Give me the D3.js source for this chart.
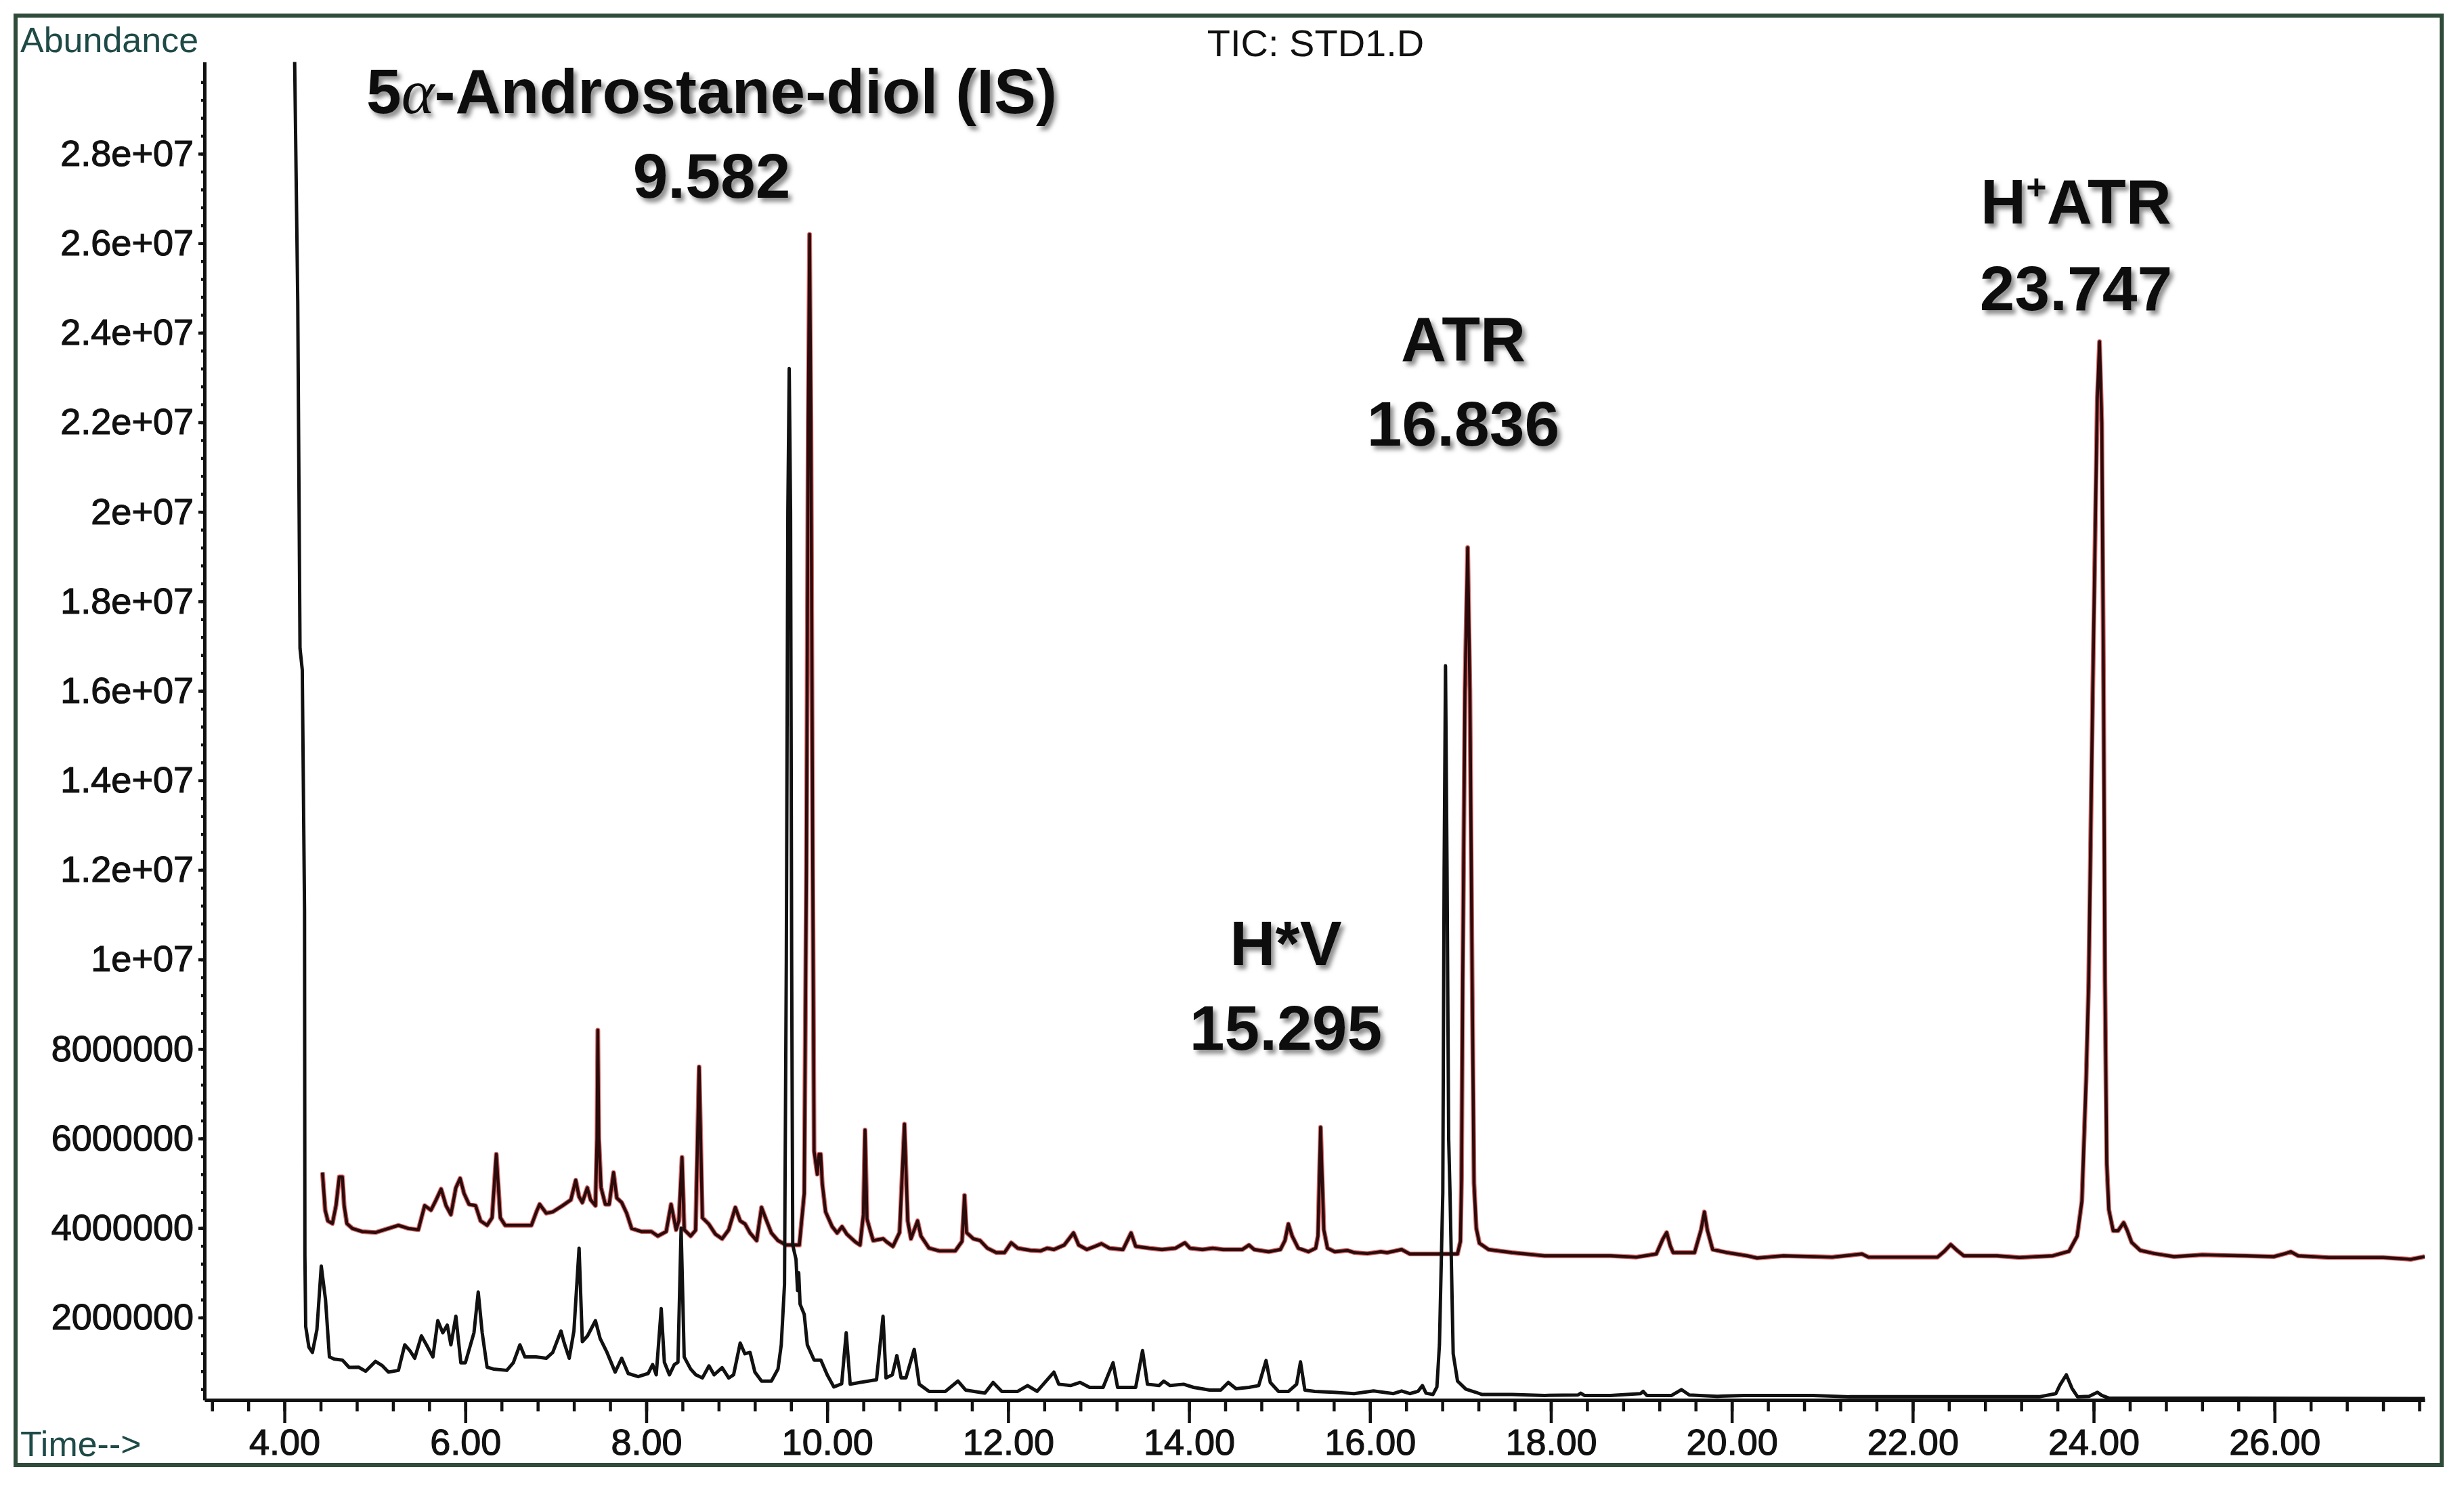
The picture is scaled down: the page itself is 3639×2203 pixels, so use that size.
<!DOCTYPE html>
<html>
<head>
<meta charset="utf-8">
<title>TIC: STD1.D</title>
<script src="https://cdn.jsdelivr.net/npm/d3@7"></script>
<style>
  body { margin: 0; background: #ffffff; }
  text { font-family: "Liberation Sans", Arial, sans-serif; }
</style>
</head>
<body>
<div id="chart"></div>
<script>
// Data: [retention time (min), abundance (millions of counts)]
var blackTrace = [
    [4.11, 30.5], [4.147, 24.7], [4.172, 16.95], [4.197, 16.47], [4.222, 11.1], [4.226, 3.4],
    [4.235, 1.8], [4.27, 1.34], [4.309, 1.22], [4.359, 1.73], [4.407, 3.15], [4.454, 2.40],
    [4.497, 1.12], [4.55, 1.07], [4.64, 1.05], [4.715, 0.886], [4.82, 0.89], [4.897, 0.80],
    [5.006, 1.02], [5.078, 0.93], [5.15, 0.78], [5.26, 0.82], [5.33, 1.39], [5.387, 1.26],
    [5.44, 1.09], [5.514, 1.59], [5.57, 1.39], [5.641, 1.12], [5.695, 1.93], [5.75, 1.66],
    [5.80, 1.83], [5.84, 1.39], [5.895, 2.03], [5.95, 0.99], [6.0, 0.99], [6.095, 1.66],
    [6.142, 2.57], [6.186, 1.66], [6.24, 0.89], [6.31, 0.85], [6.458, 0.82], [6.53, 0.99],
    [6.603, 1.39], [6.658, 1.12], [6.78, 1.12], [6.894, 1.09], [6.966, 1.22], [7.057, 1.70],
    [7.093, 1.43], [7.148, 1.09], [7.20, 1.70], [7.257, 3.55], [7.293, 1.46], [7.35, 1.59],
    [7.438, 1.93], [7.49, 1.53], [7.566, 1.22], [7.656, 0.78], [7.728, 1.09], [7.80, 0.75],
    [7.91, 0.68], [8.02, 0.75], [8.07, 0.95], [8.11, 0.72], [8.165, 2.20], [8.20, 1.0],
    [8.256, 0.72], [8.31, 0.95], [8.35, 1.0], [8.385, 4.0], [8.419, 1.12], [8.49, 0.85],
    [8.548, 0.72], [8.62, 0.65], [8.693, 0.92], [8.75, 0.72], [8.838, 0.88], [8.911, 0.65],
    [8.965, 0.72], [9.038, 1.43], [9.09, 1.19], [9.147, 1.22], [9.201, 0.78], [9.274, 0.58],
    [9.383, 0.58], [9.456, 0.85], [9.492, 1.39], [9.528, 2.74], [9.548, 10], [9.565, 20],
    [9.58, 23.2], [9.595, 20], [9.607, 10], [9.619, 3.62], [9.655, 3.3], [9.672, 2.6],
    [9.685, 3.0], [9.70, 2.3], [9.746, 2.07], [9.78, 1.39], [9.855, 1.05], [9.93, 1.05],
    [10.0, 0.72], [10.073, 0.45], [10.16, 0.52], [10.21, 1.66], [10.254, 0.51], [10.36, 0.55],
    [10.545, 0.61], [10.617, 2.03], [10.65, 0.65], [10.72, 0.72], [10.77, 1.15], [10.817, 0.65],
    [10.87, 0.65], [10.962, 1.29], [11.017, 0.51], [11.126, 0.35], [11.307, 0.35], [11.445, 0.58],
    [11.53, 0.38], [11.743, 0.31], [11.834, 0.55], [11.93, 0.35], [12.106, 0.35], [12.215, 0.48],
    [12.32, 0.35], [12.506, 0.78], [12.56, 0.51], [12.69, 0.48], [12.796, 0.55], [12.90, 0.44],
    [13.05, 0.44], [13.16, 0.99], [13.21, 0.44], [13.41, 0.44], [13.486, 1.26], [13.54, 0.51],
    [13.668, 0.48], [13.72, 0.58], [13.79, 0.48], [13.94, 0.51], [14.05, 0.44], [14.227, 0.38],
    [14.35, 0.38], [14.434, 0.55], [14.52, 0.41], [14.662, 0.44], [14.77, 0.48], [14.851, 1.04],
    [14.898, 0.55], [14.989, 0.35], [15.10, 0.35], [15.189, 0.51], [15.232, 1.01], [15.28, 0.38],
    [15.39, 0.35], [15.60, 0.33], [15.824, 0.30], [16.04, 0.36], [16.26, 0.30], [16.35, 0.36],
    [16.44, 0.30], [16.53, 0.35], [16.58, 0.48], [16.62, 0.31], [16.696, 0.28], [16.74, 0.45],
    [16.768, 1.39], [16.805, 4.77], [16.82, 12], [16.835, 16.56], [16.852, 12], [16.87, 6],
    [16.885, 4.77], [16.92, 1.19], [16.968, 0.58], [17.06, 0.40], [17.17, 0.33], [17.24, 0.28],
    [17.57, 0.28], [17.93, 0.26], [18.30, 0.27], [18.33, 0.31], [18.37, 0.26], [18.66, 0.26],
    [18.99, 0.30], [19.02, 0.35], [19.06, 0.26], [19.335, 0.26], [19.443, 0.39], [19.53, 0.27],
    [19.84, 0.24], [20.13, 0.26], [20.9, 0.26], [21.3, 0.23], [23.4, 0.23], [23.582, 0.30],
    [23.627, 0.49], [23.698, 0.72], [23.76, 0.42], [23.822, 0.23], [23.95, 0.24], [24.042, 0.33],
    [24.09, 0.26], [24.17, 0.20], [27.66, 0.19]
];

var redTrace = [
    [4.42, 5.24], [4.45, 4.4], [4.48, 4.16], [4.53, 4.1], [4.57, 4.5], [4.606, 5.14],
    [4.64, 5.14], [4.66, 4.5], [4.69, 4.1], [4.751, 3.99], [4.86, 3.92], [5.006, 3.90],
    [5.15, 3.99], [5.26, 4.06], [5.37, 3.99], [5.48, 3.96], [5.55, 4.50], [5.62, 4.40],
    [5.677, 4.63], [5.732, 4.87], [5.786, 4.5], [5.84, 4.30], [5.895, 4.9], [5.942, 5.11],
    [5.986, 4.77], [6.04, 4.53], [6.113, 4.50], [6.168, 4.16], [6.24, 4.06], [6.295, 4.23],
    [6.342, 5.65], [6.386, 4.23], [6.44, 4.06], [6.57, 4.06], [6.73, 4.06], [6.785, 4.36],
    [6.821, 4.53], [6.894, 4.33], [6.966, 4.36], [7.075, 4.50], [7.166, 4.63], [7.22, 5.07],
    [7.257, 4.70], [7.293, 4.57], [7.348, 4.90], [7.384, 4.63], [7.438, 4.50], [7.455, 6.0],
    [7.464, 8.42], [7.475, 6.0], [7.50, 4.90], [7.547, 4.53], [7.59, 4.53], [7.638, 5.24],
    [7.674, 4.67], [7.728, 4.57], [7.783, 4.33], [7.838, 3.99], [7.947, 3.92], [8.056, 3.92],
    [8.128, 3.82], [8.22, 3.92], [8.274, 4.53], [8.33, 3.96], [8.36, 4.16], [8.395, 5.58],
    [8.42, 3.96], [8.49, 3.82], [8.545, 3.95], [8.584, 7.60], [8.62, 4.23], [8.69, 4.09],
    [8.765, 3.86], [8.838, 3.76], [8.911, 3.96], [8.984, 4.46], [9.038, 4.16], [9.092, 4.09],
    [9.147, 3.89], [9.22, 3.72], [9.274, 4.46], [9.33, 4.16], [9.383, 3.89], [9.456, 3.72],
    [9.546, 3.62], [9.692, 3.62], [9.746, 4.77], [9.77, 12], [9.79, 22], [9.805, 26.2],
    [9.82, 22], [9.84, 12], [9.855, 5.72], [9.89, 5.2], [9.91, 5.65], [9.928, 5.65],
    [9.945, 5.0], [9.982, 4.36], [10.055, 4.03], [10.11, 3.89], [10.164, 4.03], [10.218, 3.86],
    [10.31, 3.69], [10.363, 3.62], [10.40, 4.3], [10.418, 6.19], [10.44, 4.2], [10.473, 3.96],
    [10.508, 3.72], [10.62, 3.76], [10.657, 3.69], [10.727, 3.59], [10.80, 3.9], [10.854, 6.32],
    [10.89, 4.16], [10.926, 3.76], [10.999, 4.16], [11.036, 3.82], [11.126, 3.55], [11.235, 3.49],
    [11.416, 3.49], [11.49, 3.7], [11.518, 4.73], [11.54, 3.9], [11.616, 3.76], [11.69, 3.72],
    [11.77, 3.55], [11.87, 3.45], [11.96, 3.45], [12.034, 3.67], [12.106, 3.55], [12.25, 3.50],
    [12.36, 3.49], [12.433, 3.55], [12.506, 3.52], [12.62, 3.62], [12.723, 3.89], [12.78, 3.62],
    [12.87, 3.52], [12.96, 3.59], [13.032, 3.65], [13.12, 3.55], [13.27, 3.52], [13.359, 3.89],
    [13.41, 3.59], [13.56, 3.55], [13.70, 3.52], [13.85, 3.55], [13.954, 3.67], [14.01, 3.55],
    [14.15, 3.52], [14.26, 3.55], [14.38, 3.52], [14.59, 3.52], [14.662, 3.62], [14.72, 3.52],
    [14.88, 3.47], [15.01, 3.52], [15.06, 3.72], [15.098, 4.09], [15.14, 3.82], [15.207, 3.55],
    [15.32, 3.47], [15.40, 3.55], [15.425, 3.82], [15.454, 6.25], [15.49, 3.96], [15.53, 3.55],
    [15.61, 3.47], [15.75, 3.50], [15.83, 3.45], [15.97, 3.43], [16.12, 3.47], [16.19, 3.45],
    [16.35, 3.52], [16.44, 3.42], [16.66, 3.42], [16.968, 3.42], [17.0, 3.7], [17.012, 5.1],
    [17.025, 9.5], [17.05, 16], [17.08, 19.2], [17.105, 16], [17.13, 9.5], [17.15, 5.0],
    [17.175, 4.0], [17.21, 3.66], [17.31, 3.52], [17.57, 3.45], [17.93, 3.38], [18.29, 3.38],
    [18.66, 3.38], [18.947, 3.35], [19.165, 3.42], [19.237, 3.75], [19.28, 3.90], [19.32, 3.6],
    [19.352, 3.45], [19.588, 3.45], [19.66, 3.96], [19.697, 4.36], [19.73, 3.95], [19.788, 3.52],
    [19.95, 3.45], [20.17, 3.38], [20.28, 3.33], [20.57, 3.38], [21.11, 3.35], [21.44, 3.42],
    [21.51, 3.35], [22.275, 3.35], [22.35, 3.48], [22.42, 3.63], [22.49, 3.50], [22.565, 3.38],
    [22.93, 3.38], [23.18, 3.34], [23.55, 3.38], [23.727, 3.48], [23.818, 3.82], [23.87, 4.6],
    [23.917, 7.32], [23.945, 9.5], [23.99, 16], [24.04, 22.5], [24.065, 23.8], [24.09, 22],
    [24.11, 16], [24.125, 9.5], [24.145, 5.44], [24.168, 4.41], [24.216, 3.94], [24.27, 3.94],
    [24.332, 4.12], [24.37, 3.95], [24.42, 3.68], [24.515, 3.50], [24.67, 3.43], [24.89, 3.36],
    [25.2, 3.40], [25.68, 3.38], [25.99, 3.36], [26.12, 3.43], [26.18, 3.47], [26.26, 3.38],
    [26.6, 3.34], [27.2, 3.34], [27.505, 3.30], [27.66, 3.36]
];

var yTickValues = [2e6, 4e6, 6e6, 8e6, 1e7, 1.2e7, 1.4e7, 1.6e7, 1.8e7, 2e7, 2.2e7, 2.4e7, 2.6e7, 2.8e7];
var yTickLabels = ["2000000", "4000000", "6000000", "8000000", "1e+07", "1.2e+07", "1.4e+07",
    "1.6e+07", "1.8e+07", "2e+07", "2.2e+07", "2.4e+07", "2.6e+07", "2.8e+07"];
var xTickValues = [4, 6, 8, 10, 12, 14, 16, 18, 20, 22, 24, 26];
var xTickLabels = ["4.00", "6.00", "8.00", "10.00", "12.00", "14.00", "16.00", "18.00",
    "20.00", "22.00", "24.00", "26.00"];

var peakNames = ["5\u03b1-Androstane-diol (IS)", "ATR", "H*V", "H+ATR"];
var peakTimes = ["9.582", "16.836", "15.295", "23.747"];

// Layout
var width = 3639, height = 2203;
var plot = {left: 302, right: 3581, top: 91.5, bottom: 2067};
// label centre x and the two baselines
var labelSpots = [
    {cx: 1051, y1: 167, y2: 292},
    {cx: 2161, y1: 533, y2: 658},
    {cx: 1899, y1: 1425, y2: 1550},
    {cx: 3066, y1: 330, y2: 458}
];

var svg = d3.select("#chart")
    .append("svg")
    .attr("width", width)
    .attr("height", height)
    .style("display", "block")
    .style("background", "#ffffff");

var defs = svg.append("defs");
defs.append("clipPath")
    .attr("id", "plotClip")
    .append("rect")
    .attr("x", plot.left)
    .attr("y", plot.top)
    .attr("width", plot.right - plot.left)
    .attr("height", plot.bottom - plot.top + 4);

defs.append("filter")
    .attr("id", "shadow")
    .attr("x", "-10%").attr("y", "-20%")
    .attr("width", "130%").attr("height", "150%")
    .append("feDropShadow")
    .attr("dx", 5).attr("dy", 6)
    .attr("stdDeviation", 3)
    .attr("flood-color", "#6a6a6a")
    .attr("flood-opacity", 0.75);

// Outer frame
svg.append("rect")
    .attr("x", 23).attr("y", 23)
    .attr("width", 3583).attr("height", 2140)
    .attr("fill", "none")
    .attr("stroke", "#2f4b39")
    .attr("stroke-width", 6);

var x = d3.scaleLinear().domain([3.116, 27.66]).range([plot.left, plot.right]);
var y = d3.scaleLinear().domain([0.16e6, 30.05e6]).range([plot.bottom, plot.top]);

var line = d3.line()
    .x(function (d) { return x(d[0]); })
    .y(function (d) { return y(d[1] * 1e6); });

var traces = svg.append("g").attr("clip-path", "url(#plotClip)");

// upper trace: pinkish-red fringe under a dark brown core
traces.append("path")
    .datum(redTrace)
    .attr("d", line)
    .attr("fill", "none")
    .attr("stroke", "#d86a6a")
    .attr("stroke-width", 7)
    .attr("stroke-linejoin", "round");
traces.append("path")
    .datum(redTrace)
    .attr("d", line)
    .attr("fill", "none")
    .attr("stroke", "#2b0b0b")
    .attr("stroke-width", 4.5)
    .attr("stroke-linejoin", "round");

traces.append("path")
    .datum(blackTrace)
    .attr("d", line)
    .attr("fill", "none")
    .attr("stroke", "#111111")
    .attr("stroke-width", 5)
    .attr("stroke-linejoin", "round");

// X axis: minor ticks every 0.4 min, major every 2 min
svg.append("g")
    .attr("transform", "translate(0," + plot.bottom + ")")
    .call(d3.axisBottom(x).tickValues(d3.range(3.2, 27.7, 0.4)).tickSize(17).tickSizeOuter(0).tickFormat(""));

var xMajor = svg.append("g")
    .attr("class", "labelled")
    .attr("transform", "translate(0," + plot.bottom + ")")
    .call(d3.axisBottom(x).tickValues(xTickValues).tickSize(34).tickSizeOuter(0).tickPadding(9)
        .tickFormat(function (d, i) { return xTickLabels[i]; }));
xMajor.select(".domain").remove();

// Y axis: minor ticks every 4e5, major every 2e6
svg.append("g")
    .attr("transform", "translate(" + plot.left + ",0)")
    .call(d3.axisLeft(y).tickValues(d3.range(4e5, 3.0e7, 4e5)).tickSize(5).tickSizeOuter(0).tickFormat(""));

var yMajor = svg.append("g")
    .attr("class", "labelled")
    .attr("transform", "translate(" + plot.left + ",0)")
    .call(d3.axisLeft(y).tickValues(yTickValues).tickSize(9).tickSizeOuter(0).tickPadding(7)
        .tickFormat(function (d, i) { return yTickLabels[i]; }));
yMajor.select(".domain").remove();

svg.selectAll(".domain")
    .attr("stroke", "#111")
    .attr("stroke-width", 5);
svg.selectAll(".tick line")
    .attr("stroke", "#111")
    .attr("stroke-width", 4.5);
svg.selectAll(".labelled .tick text")
    .attr("fill", "#111")
    .attr("stroke", "#111")
    .attr("stroke-width", 1.2)
    .style("font-family", "'Liberation Sans', Arial, sans-serif")
    .style("font-size", "54px");

// Header and axis names
svg.append("text")
    .attr("x", 30).attr("y", 77)
    .attr("fill", "#1e4a47")
    .style("font-size", "52px")
    .text("Abundance");

svg.append("text")
    .attr("x", 1943).attr("y", 83)
    .attr("text-anchor", "middle")
    .attr("fill", "#111")
    .style("font-size", "56px")
    .text("TIC: STD1.D");

svg.append("text")
    .attr("x", 30).attr("y", 2150)
    .attr("fill", "#1e4a47")
    .style("font-size", "52px")
    .text("Time-->");

// Peak annotations
var labels = svg.append("g")
    .attr("filter", "url(#shadow)")
    .style("font-family", "Lato, 'Open Sans', sans-serif")
    .style("font-weight", "700")
    .style("font-size", "93px")
    .attr("fill", "#111");

peakNames.forEach(function (name, i) {
    var spot = labelSpots[i];
    var t = labels.append("text")
        .attr("x", spot.cx)
        .attr("y", spot.y1)
        .attr("text-anchor", "middle");

    if (name.indexOf("\u03b1") >= 0) {
        var parts = name.split("\u03b1");
        t.append("tspan").text(parts[0]);
        t.append("tspan")
            .style("font-family", "'Liberation Serif', serif")
            .style("font-style", "italic")
            .style("font-weight", "400")
            .text("\u03b1");
        t.append("tspan").text(parts[1]);
    } else if (name.indexOf("+") >= 0) {
        var bits = name.split("+");
        t.append("tspan").text(bits[0]);
        t.append("tspan").attr("dy", -36).style("font-size", "52px").text("+");
        t.append("tspan").attr("dy", 36).text(bits[1]);
    } else {
        t.text(name);
    }

    labels.append("text")
        .attr("x", spot.cx)
        .attr("y", spot.y2)
        .attr("text-anchor", "middle")
        .text(peakTimes[i]);
});
</script>
</body>
</html>
